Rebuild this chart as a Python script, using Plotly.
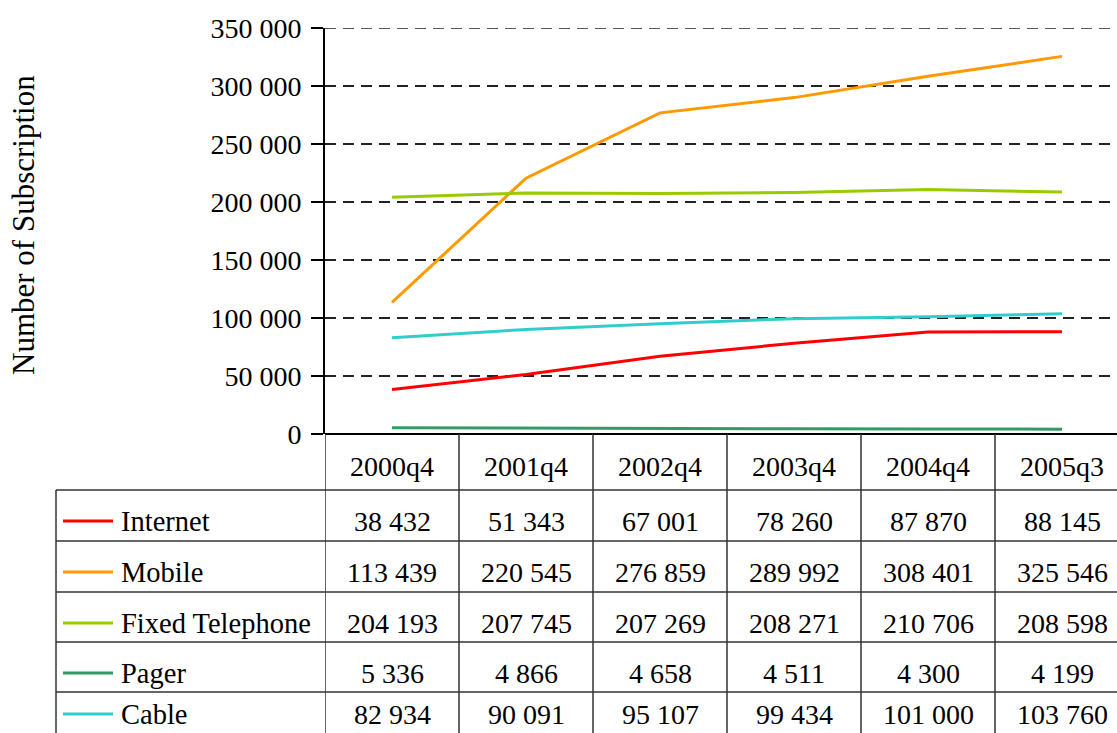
import plotly.graph_objects as go

categories = ["2000q4", "2001q4", "2002q4", "2003q4", "2004q4", "2005q3"]
series_names = ["Internet", "Mobile", "Fixed Telephone", "Pager", "Cable"]
internet = [38432, 51343, 67001, 78260, 87870, 88145]
mobile = [113439, 220545, 276859, 289992, 308401, 325546]
fixed_tel = [204193, 207745, 207269, 208271, 210706, 208598]
pager = [5336, 4866, 4658, 4511, 4300, 4199]
cable = [82934, 90091, 95107, 99434, 101000, 103760]
colors = ["#FF0000", "#FF9900", "#99CC00", "#339966", "#33CCCC"]
y_ticks = [0, 50000, 100000, 150000, 200000, 250000, 300000, 350000]

all_series = [internet, mobile, fixed_tel, pager, cable]

W, H = 1117, 733
FONT = "Liberation Serif, Times New Roman, serif"
FS = 28

def py(y):
    return (H - y) / H

def px(x):
    return x / W

fig = go.Figure()
for name, vals, col in zip(series_names, all_series, colors):
    fig.add_trace(go.Scatter(x=categories, y=vals, mode="lines", name=name,
                             line=dict(color=col, width=3)))

x0_pix = 325
top_pix, bot_pix = 28, 434
col_w = 134
right_range = (W - x0_pix) / col_w - 0.5

fig.update_layout(
    width=W, height=H,
    autosize=False,
    margin=dict(l=0, r=0, t=0, b=0, pad=0),
    paper_bgcolor="white", plot_bgcolor="white",
    showlegend=False,
    separators=". ",
    font=dict(family=FONT, size=FS, color="black"),
    xaxis=dict(domain=[px(x0_pix), 1], range=[-0.5, right_range],
               type="category", showticklabels=False, showgrid=False,
               showline=False, zeroline=False, ticks="", automargin=False),
    yaxis=dict(domain=[py(bot_pix), py(top_pix)], range=[0, 350000],
               tickvals=y_ticks, tickformat=",d", automargin=False,
               showline=True, linecolor="black", linewidth=2,
               ticks="outside", ticklen=12, tickcolor="black", tickwidth=2,
               ticklabelstandoff=4,
               showgrid=True, gridcolor="#222222", gridwidth=1.5, griddash="11px,7px",
               zeroline=False,
               tickfont=dict(family=FONT, size=FS, color="black")),
)

shapes = []
annotations = []
line_style = dict(color="#333333", width=1.5)

shapes.append(dict(type="line", xref="paper", yref="y",
                   x0=px(x0_pix), x1=1, y0=y_ticks[-1], y1=y_ticks[-1],
                   line=dict(color="#222222", width=1.5, dash="11px,7px")))
shapes.append(dict(type="line", xref="paper", yref="paper",
                   x0=px(x0_pix), x1=1, y0=py(bot_pix), y1=py(bot_pix),
                   line=dict(color="black", width=2)))

header_bottom = 490
row_lines = [490, 541, 592, 642, 692]
left_pix = 56

for i in range(len(categories) + 1):
    shapes.append(dict(type="line", xref="x", yref="paper",
                       x0=i - 0.5, x1=i - 0.5, y0=py(bot_pix), y1=0,
                       line=line_style))
shapes.append(dict(type="line", xref="paper", yref="paper",
                   x0=px(left_pix), x1=px(left_pix), y0=py(header_bottom), y1=0,
                   line=line_style))
for yl in row_lines:
    shapes.append(dict(type="line", xref="paper", yref="paper",
                       x0=px(left_pix), x1=1, y0=py(yl), y1=py(yl),
                       line=line_style))

for i, c in enumerate(categories):
    annotations.append(dict(x=i, y=py(466), xref="x", yref="paper",
                            text=c, showarrow=False, xanchor="center", yanchor="middle",
                            font=dict(family=FONT, size=FS, color="black")))

def fmt(v):
    return f"{v:,}".replace(",", " ")

row_centres = [521, 572, 623, 673, 714]
for r, (name, vals, col) in enumerate(zip(series_names, all_series, colors)):
    yc = row_centres[r]
    shapes.append(dict(type="line", xref="paper", yref="paper",
                       x0=px(63), x1=px(113), y0=py(yc), y1=py(yc),
                       line=dict(color=col, width=3)))
    annotations.append(dict(x=px(119), y=py(yc), xref="paper", yref="paper",
                            text=name, showarrow=False, xanchor="left", yanchor="middle",
                            font=dict(family=FONT, size=FS + 0.5, color="black")))
    for i, v in enumerate(vals):
        annotations.append(dict(x=i, y=py(yc), xref="x", yref="paper",
                                text=fmt(v), showarrow=False, xanchor="center", yanchor="middle",
                                font=dict(family=FONT, size=FS, color="black")))

annotations.append(dict(x=px(23), y=py(225), xref="paper", yref="paper",
                        text="Number of Subscription", textangle=-90, showarrow=False,
                        xanchor="center", yanchor="middle",
                        font=dict(family=FONT, size=31, color="black")))

fig.update_layout(shapes=shapes, annotations=annotations)
fig.write_html("out.html", config={"displayModeBar": False},
               post_script="document.body.style.margin='0px';document.body.style.overflow='hidden';")
